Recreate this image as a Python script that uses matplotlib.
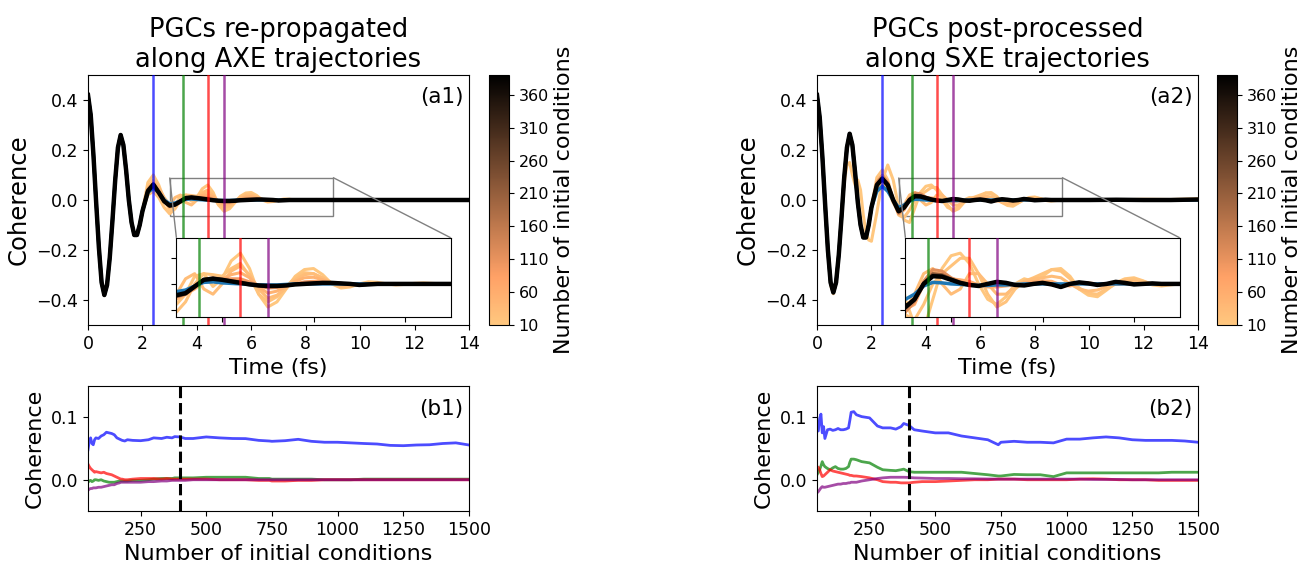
import numpy as np
import matplotlib
matplotlib.use("Agg")
import matplotlib.pyplot as plt
from matplotlib import cm, colors
from mpl_toolkits.axes_grid1.inset_locator import mark_inset

# ---- time grid (fs) ----
t_early = [0.0, 0.1, 0.2, 0.3, 0.4, 0.5, 0.6, 0.7, 0.8, 0.9,
           1.0, 1.1, 1.2, 1.3, 1.4, 1.5, 1.6, 1.7, 1.8, 1.9, 2.0]
t_tail = [2.2, 2.4, 2.6, 2.8, 3.0, 3.2, 3.4, 3.6, 3.8, 4.0,
          4.2, 4.4, 4.6, 4.8, 5.0, 5.2, 5.4, 5.6, 5.8, 6.0,
          6.2, 6.4, 6.6, 6.8, 7.0, 7.2, 7.4, 7.6, 7.8, 8.0,
          8.2, 8.4, 8.6, 8.8, 9.0, 10.0, 11.0, 12.0, 13.0, 14.0]
time_fs = t_early + t_tail

# ---- panel (a1) ----
a1_early = [0.42, 0.34, 0.18, -0.01, -0.19, -0.33, -0.38, -0.34, -0.23, -0.08,
            0.08, 0.21, 0.26, 0.22, 0.12, 0.00, -0.09, -0.14, -0.14, -0.10, -0.045]
a1_black = [0.035, 0.062, 0.030, -0.005, -0.022, -0.018, -0.005, 0.008, 0.010, 0.008,
            0.005, 0.002, -0.001, -0.003, -0.004, -0.004, -0.003, -0.001, 0.000, 0.001,
            0.002, 0.002, 0.001, 0.000, -0.002, -0.001, 0.0, 0.0, 0.0, 0.0,
            0.0, 0.0, 0.0, 0.0, 0.0, 0.0, 0.0, 0.0, 0.0, 0.0]
a1_blue = [0.030, 0.048, 0.030, 0.000, -0.015, -0.012, -0.004, 0.003, 0.004, 0.002,
           0.001, 0.000, -0.001, -0.002, -0.002, -0.002, -0.001, 0.0, 0.0, 0.0,
           0.0, 0.0, 0.0, 0.0, 0.0, 0.0, 0.0, 0.0, 0.0, 0.0,
           0.0, 0.0, 0.0, 0.0, 0.0, 0.0, 0.0, 0.0, 0.0, 0.0]
a1_n = [10, 20, 30, 50, 100, 200, 300]
a1_tails = [
    [0.070, 0.100, 0.060, 0.000, -0.040, -0.020, 0.015, 0.020, -0.005, 0.010,
     0.045, 0.060, 0.030, -0.020, -0.045, -0.035, -0.010, 0.015, 0.028, 0.030,
     0.018, 0.000, -0.008, -0.006, 0.000, 0.004, 0.003, 0.000, -0.002, -0.001,
     0.001, 0.002, 0.001, 0.0, 0.0, 0.0, 0.0, 0.0, 0.0, 0.0],
    [0.020, 0.035, 0.010, -0.030, -0.055, -0.035, 0.000, 0.020, 0.018, 0.015,
     0.030, 0.040, 0.015, -0.020, -0.035, -0.025, -0.005, 0.012, 0.022, 0.020,
     0.010, 0.000, -0.004, -0.004, 0.000, 0.002, 0.001, 0.0, 0.0, 0.0,
     0.0, 0.0, 0.0, 0.0, 0.0, 0.0, 0.0, 0.0, 0.0, 0.0],
    [0.050, 0.080, 0.050, 0.010, -0.020, 0.010, 0.020, -0.010, -0.020, 0.000,
     0.025, 0.035, 0.018, -0.010, -0.028, -0.022, -0.008, 0.008, 0.018, 0.020,
     0.012, 0.002, -0.005, -0.004, 0.000, 0.001, 0.0, 0.0, 0.0, 0.0,
     0.0, 0.0, 0.0, 0.0, 0.0, 0.0, 0.0, 0.0, 0.0, 0.0],
    [0.040, 0.070, 0.040, 0.000, -0.030, -0.020, -0.010, 0.005, 0.010, 0.010,
     0.018, 0.022, 0.012, -0.006, -0.018, -0.014, -0.005, 0.005, 0.012, 0.013,
     0.008, 0.002, -0.002, -0.001, 0.0, 0.0, 0.0, 0.0, 0.0, 0.0,
     0.0, 0.0, 0.0, 0.0, 0.0, 0.0, 0.0, 0.0, 0.0, 0.0],
    [0.035, 0.060, 0.030, -0.005, -0.025, -0.020, -0.008, 0.006, 0.010, 0.009,
     0.010, 0.010, 0.004, -0.004, -0.008, -0.007, -0.004, 0.000, 0.004, 0.005,
     0.004, 0.002, 0.000, 0.0, 0.0, 0.0, 0.0, 0.0, 0.0, 0.0,
     0.0, 0.0, 0.0, 0.0, 0.0, 0.0, 0.0, 0.0, 0.0, 0.0],
    [0.042, 0.064, 0.032, -0.006, -0.025, -0.020, -0.006, 0.009, 0.012, 0.009,
     0.006, 0.004, 0.000, -0.004, -0.006, -0.005, -0.003, 0.000, 0.001, 0.002,
     0.002, 0.002, 0.001, 0.000, -0.002, -0.001, 0.0, 0.0, 0.0, 0.0,
     0.0, 0.0, 0.0, 0.0, 0.0, 0.0, 0.0, 0.0, 0.0, 0.0],
    [0.038, 0.063, 0.031, -0.005, -0.023, -0.019, -0.005, 0.008, 0.011, 0.008,
     0.005, 0.003, -0.001, -0.003, -0.005, -0.004, -0.003, -0.001, 0.000, 0.001,
     0.002, 0.002, 0.001, 0.000, -0.002, -0.001, 0.0, 0.0, 0.0, 0.0,
     0.0, 0.0, 0.0, 0.0, 0.0, 0.0, 0.0, 0.0, 0.0, 0.0],
]

# ---- panel (a2) ----
a2_early = [0.42, 0.33, 0.17, -0.02, -0.20, -0.33, -0.37, -0.33, -0.22, -0.07,
            0.09, 0.21, 0.265, 0.22, 0.11, -0.01, -0.10, -0.15, -0.15, -0.10, -0.03]
a2_early_outlier = [0.40, 0.32, 0.16, -0.03, -0.21, -0.34, -0.375, -0.33, -0.21, -0.06,
                    0.07, 0.14, 0.15, 0.10, 0.06, 0.08, 0.04, -0.06, -0.13, -0.16, -0.165]
a2_black = [0.060, 0.085, 0.060, 0.000, -0.045, -0.030, 0.000, 0.015, 0.014, 0.008,
            0.002, -0.002, -0.004, 0.000, 0.004, 0.002, -0.002, -0.003, 0.000, 0.002,
            -0.001, -0.006, 0.000, 0.003, 0.001, -0.002, 0.000, 0.004, 0.002, -0.001,
            0.000, 0.001, 0.000, 0.000, 0.000, 0.000, 0.001, 0.000, 0.000, 0.002]
a2_blue = [0.035, 0.055, 0.035, 0.000, -0.030, -0.020, -0.004, 0.003, 0.002, 0.000,
           -0.001, -0.002, -0.003, -0.003, -0.002, -0.002, -0.001, 0.000, 0.000, 0.000,
           0.0, 0.0, 0.0, 0.0, 0.0, 0.0, 0.0, 0.0, 0.0, 0.0,
           0.0, 0.0, 0.0, 0.0, 0.0, 0.0, 0.0, 0.0, 0.0, 0.0]
a2_n = [10, 20, 30, 60, 120, 220, 300]
a2_tails = [
    [-0.050, 0.080, 0.140, 0.080, -0.030, -0.080, -0.090, -0.030, 0.030, 0.055,
     0.060, 0.040, 0.000, -0.030, -0.040, -0.025, 0.000, 0.010, 0.005, 0.015,
     0.028, 0.030, 0.015, -0.010, -0.022, -0.025, -0.012, 0.002, 0.010, 0.012,
     0.006, -0.002, -0.004, -0.002, 0.000, 0.002, 0.000, 0.003, 0.002, 0.005],
    [0.090, 0.120, 0.080, 0.000, -0.060, -0.070, -0.040, 0.000, 0.020, 0.035,
     0.050, 0.050, 0.020, -0.020, -0.045, -0.035, -0.010, 0.005, 0.012, 0.020,
     0.028, 0.025, 0.010, -0.008, -0.018, -0.020, -0.010, 0.000, 0.008, 0.010,
     0.005, 0.000, -0.002, 0.0, 0.0, 0.0, 0.0, 0.0, 0.0, 0.0],
    [0.050, 0.070, 0.040, -0.010, -0.050, -0.020, 0.020, 0.030, 0.000, -0.020,
     -0.010, 0.020, 0.020, 0.000, -0.020, -0.020, -0.005, 0.005, 0.010, 0.012,
     0.015, 0.012, 0.000, -0.010, -0.014, -0.012, -0.005, 0.003, 0.006, 0.005,
     0.002, 0.000, 0.0, 0.0, 0.0, 0.0, 0.0, 0.0, 0.0, 0.0],
    [0.065, 0.095, 0.065, 0.005, -0.050, -0.040, 0.000, 0.022, 0.020, 0.010,
     0.008, 0.005, -0.002, -0.006, -0.006, -0.004, -0.002, 0.002, 0.004, 0.006,
     0.005, -0.002, -0.004, 0.000, 0.002, 0.0, 0.0, 0.0, 0.0, 0.0,
     0.0, 0.0, 0.0, 0.0, 0.0, 0.0, 0.0, 0.0, 0.0, 0.0],
    [0.070, 0.100, 0.070, 0.000, -0.055, -0.035, 0.005, 0.028, 0.025, 0.012,
     0.004, 0.000, -0.004, -0.002, 0.003, 0.002, -0.002, -0.002, 0.000, 0.002,
     0.000, -0.005, 0.000, 0.002, 0.001, 0.0, 0.0, 0.0, 0.0, 0.0,
     0.0, 0.0, 0.0, 0.0, 0.0, 0.0, 0.0, 0.0, 0.0, 0.0],
    [0.062, 0.090, 0.062, 0.000, -0.048, -0.032, 0.002, 0.020, 0.018, 0.010,
     0.003, -0.001, -0.004, -0.001, 0.004, 0.002, -0.002, -0.003, 0.000, 0.002,
     -0.001, -0.006, 0.000, 0.003, 0.001, -0.002, 0.000, 0.003, 0.002, -0.001,
     0.0, 0.0, 0.0, 0.0, 0.0, 0.0, 0.0, 0.0, 0.0, 0.0],
    [0.061, 0.087, 0.061, 0.000, -0.046, -0.031, 0.001, 0.017, 0.016, 0.009,
     0.002, -0.002, -0.004, 0.000, 0.004, 0.002, -0.002, -0.003, 0.000, 0.002,
     -0.001, -0.006, 0.000, 0.003, 0.001, -0.002, 0.000, 0.004, 0.002, -0.001,
     0.0, 0.001, 0.0, 0.0, 0.0, 0.0, 0.001, 0.0, 0.0, 0.002],
]

# ---- convergence panels (b1, b2) ----
n_ic = [50, 55, 60, 65, 70, 75, 80, 90, 100, 110, 120, 130, 140, 150, 160, 170, 175, 180,
        190, 200, 220, 250, 280, 300, 330, 350, 370, 380, 400, 420, 450, 500, 550, 600,
        650, 700, 740, 750, 800, 850, 900, 950, 1000, 1050, 1100, 1150, 1200, 1250, 1300,
        1350, 1400, 1450, 1500]
b1_blue = [0.048, 0.062, 0.067, 0.058, 0.056, 0.064, 0.067, 0.066, 0.070, 0.072, 0.076, 0.075,
           0.074, 0.072, 0.067, 0.065, 0.064, 0.063, 0.062, 0.064, 0.063, 0.0625, 0.064, 0.067,
           0.066, 0.068, 0.067, 0.069, 0.0685, 0.066, 0.066, 0.0685, 0.067, 0.066, 0.0658,
           0.063, 0.062, 0.0615, 0.0625, 0.0647, 0.0615, 0.060, 0.060, 0.059, 0.058, 0.0572,
           0.055, 0.0545, 0.0556, 0.056, 0.058, 0.059, 0.0556]
b1_green = [-0.004, -0.002, -0.001, -0.003, -0.002, 0.0, 0.0, -0.001, 0.0, -0.002, -0.003,
            -0.004, -0.004, -0.004, -0.003, -0.002, -0.002, -0.002, -0.002, -0.002, -0.001,
            -0.001, 0.0, 0.001, 0.002, 0.002, 0.002, 0.003, 0.003, 0.003, 0.003, 0.004, 0.004,
            0.004, 0.004, 0.002, 0.002, 0.001, 0.001, 0.001, 0.001, 0.0, 0.0, 0.0, 0.001,
            0.001, 0.001, 0.001, 0.001, 0.001, 0.001, 0.001, 0.001]
b1_red = [0.025, 0.021, 0.018, 0.016, 0.014, 0.012, 0.013, 0.012, 0.011, 0.012, 0.010, 0.009,
          0.008, 0.006, 0.004, 0.002, 0.001, 0.001, 0.0, 0.0, 0.001, 0.002, 0.002, 0.002,
          0.001, 0.002, 0.001, 0.001, 0.001, 0.001, 0.001, 0.001, 0.0, 0.0, 0.0, -0.001,
          -0.001, -0.002, -0.002, -0.001, -0.001, 0.0, 0.0, 0.0, 0.0, 0.0, 0.0, 0.0, 0.0,
          0.0, 0.0, 0.0, 0.0]
b1_purple = [-0.017, -0.015, -0.014, -0.014, -0.013, -0.013, -0.013, -0.012, -0.012, -0.011,
             -0.010, -0.009, -0.008, -0.008, -0.006, -0.005, -0.004, -0.004, -0.004, -0.004,
             -0.004, -0.004, -0.003, -0.003, -0.002, -0.002, -0.001, -0.001, -0.001, -0.001,
             0.0, 0.0, 0.0, 0.0, 0.0, 0.0, 0.0, 0.0, 0.0, 0.0, 0.0, 0.0, 0.0, 0.0, 0.0,
             0.0, 0.0, 0.0, 0.0, 0.0, 0.0, 0.0, 0.0]
b2_blue = [0.080, 0.078, 0.098, 0.105, 0.075, 0.085, 0.066, 0.080, 0.081, 0.079, 0.080, 0.082,
           0.080, 0.080, 0.081, 0.083, 0.095, 0.108, 0.109, 0.104, 0.101, 0.099, 0.086, 0.083,
           0.083, 0.081, 0.085, 0.090, 0.087, 0.080, 0.078, 0.075, 0.075, 0.070, 0.067, 0.064,
           0.056, 0.060, 0.0615, 0.060, 0.060, 0.059, 0.065, 0.065, 0.067, 0.0685, 0.067,
           0.064, 0.063, 0.063, 0.063, 0.062, 0.060]
b2_green = [0.008, 0.012, 0.016, 0.022, 0.029, 0.024, 0.021, 0.018, 0.016, 0.019, 0.021, 0.018,
            0.017, 0.017, 0.018, 0.021, 0.028, 0.033, 0.033, 0.032, 0.029, 0.027, 0.020, 0.016,
            0.015, 0.0145, 0.016, 0.017, 0.013, 0.012, 0.012, 0.012, 0.012, 0.012, 0.010, 0.008,
            0.006, 0.006, 0.0085, 0.008, 0.008, 0.005, 0.011, 0.011, 0.011, 0.011, 0.011, 0.011,
            0.011, 0.011, 0.012, 0.012, 0.012]
b2_red = [0.021, 0.020, 0.016, 0.010, 0.005, 0.006, 0.008, 0.012, 0.016, 0.014, 0.013, 0.012,
          0.011, 0.010, 0.009, 0.008, 0.007, 0.007, 0.006, 0.006, 0.005, 0.003, 0.0, -0.003,
          -0.004, -0.004, -0.005, -0.005, -0.005, -0.004, -0.003, -0.003, -0.002, -0.001, 0.0,
          0.0, 0.001, 0.001, 0.001, 0.0, 0.0, 0.0, 0.0, 0.001, 0.0015, 0.001, 0.0, 0.0, 0.0,
          -0.001, -0.001, -0.001, -0.001]
b2_purple = [-0.021, -0.019, -0.016, -0.013, -0.011, -0.012, -0.012, -0.011, -0.010, -0.009,
             -0.008, -0.007, -0.007, -0.006, -0.006, -0.005, -0.005, -0.004, -0.004, -0.004,
             -0.002, 0.0, 0.002, 0.003, 0.004, 0.004, 0.004, 0.004, 0.0037, 0.003, 0.0027,
             0.002, 0.002, 0.0016, 0.0015, 0.0012, 0.001, 0.001, 0.001, 0.001, 0.001, 0.001,
             0.001, 0.001, 0.0005, 0.0005, 0.0005, 0.0, 0.0, 0.0, 0.0, 0.0, 0.0]

vline_times = [2.4, 3.5, 4.4, 5.0]
vline_colors = ["blue", "green", "red", "purple"]
n_cut = 400
cbar_ticks = [10, 60, 110, 160, 210, 260, 310, 360]

W, H = 1305, 563
fig = plt.figure(figsize=(W / 100, H / 100), dpi=100)


def frac(x0, y0, x1, y1):
    return [x0 / W, 1 - y1 / H, (x1 - x0) / W, (y1 - y0) / H]


norm = colors.Normalize(vmin=10, vmax=390)
cmap = plt.get_cmap("copper_r")


def top_panel(rect, cbar_rect, early, tails, n_list, blue, black, title, tag, outlier_early=None):
    ax = fig.add_axes(frac(*rect))
    axins = ax.inset_axes([0.232, 0.031, 0.72, 0.318])
    for a in (ax, axins):
        for i, (n, tail) in enumerate(zip(n_list, tails)):
            e = outlier_early if (outlier_early is not None and i == 0) else early
            a.plot(time_fs, e + tail, color=cmap(norm(n)), lw=2.2)
        a.plot(time_fs, early + blue, color="tab:blue", lw=2.5)
        a.plot(time_fs, early + black, color="black", lw=3.2)
        for tv, c in zip(vline_times, vline_colors):
            a.axvline(tv, color=c, lw=1.8, alpha=0.7, zorder=5)
    ax.set_xlim(0, 14)
    ax.set_ylim(-0.5, 0.5)
    ax.set_xticks([0, 2, 4, 6, 8, 10, 12, 14])
    ax.set_yticks([-0.4, -0.2, 0.0, 0.2, 0.4])
    ax.tick_params(labelsize=12.5)
    ax.set_xlabel("Time (fs)", fontsize=16)
    ax.set_ylabel("Coherence", fontsize=17.5)
    ax.set_title(title, fontsize=18.5)
    ax.text(0.985, 0.91, tag, transform=ax.transAxes, ha="right", va="center", fontsize=15.5)
    axins.set_xlim(3, 9)
    axins.set_ylim(-0.065, 0.09)
    axins.set_xticks([4, 6, 8])
    axins.set_yticks([-0.05, 0.0, 0.05])
    axins.set_xticklabels([])
    axins.set_yticklabels([])
    mark_inset(ax, axins, loc1=2, loc2=1, fc="none", ec="0.5")
    cax = fig.add_axes(frac(*cbar_rect))
    sm = cm.ScalarMappable(norm=norm, cmap=cmap)
    cb = fig.colorbar(sm, cax=cax, ticks=cbar_ticks)
    cb.ax.tick_params(labelsize=11.5)
    cb.set_label("Number of initial conditions", fontsize=16, labelpad=3)
    return ax


def bottom_panel(rect, blue, green, red, purple, tag):
    ax = fig.add_axes(frac(*rect))
    ax.plot(n_ic, blue, color="blue", lw=2, alpha=0.7)
    ax.plot(n_ic, green, color="green", lw=2, alpha=0.7)
    ax.plot(n_ic, red, color="red", lw=2, alpha=0.7)
    ax.plot(n_ic, purple, color="purple", lw=2, alpha=0.7)
    ax.axvline(n_cut, color="black", ls="--", lw=2.2)
    ax.set_xlim(50, 1500)
    ax.set_ylim(-0.05, 0.15)
    ax.set_xticks([250, 500, 750, 1000, 1250, 1500])
    ax.set_yticks([0.0, 0.1])
    ax.tick_params(labelsize=12.5)
    ax.set_xlabel("Number of initial conditions", fontsize=16)
    ax.set_ylabel("Coherence", fontsize=16)
    ax.text(0.985, 0.82, tag, transform=ax.transAxes, ha="right", va="center", fontsize=15.5)
    return ax


top_panel((88, 75, 469, 325), (489, 75, 509, 325), a1_early, a1_tails, a1_n, a1_blue, a1_black,
          "PGCs re-propagated\nalong AXE trajectories", "(a1)")
top_panel((817, 75, 1198, 325), (1217, 75, 1237, 325), a2_early, a2_tails, a2_n, a2_blue, a2_black,
          "PGCs post-processed\nalong SXE trajectories", "(a2)", outlier_early=a2_early_outlier)
bottom_panel((88, 386, 469, 511), b1_blue, b1_green, b1_red, b1_purple, "(b1)")
bottom_panel((817, 386, 1198, 511), b2_blue, b2_green, b2_red, b2_purple, "(b2)")

fig.savefig("out.png", dpi=100)
